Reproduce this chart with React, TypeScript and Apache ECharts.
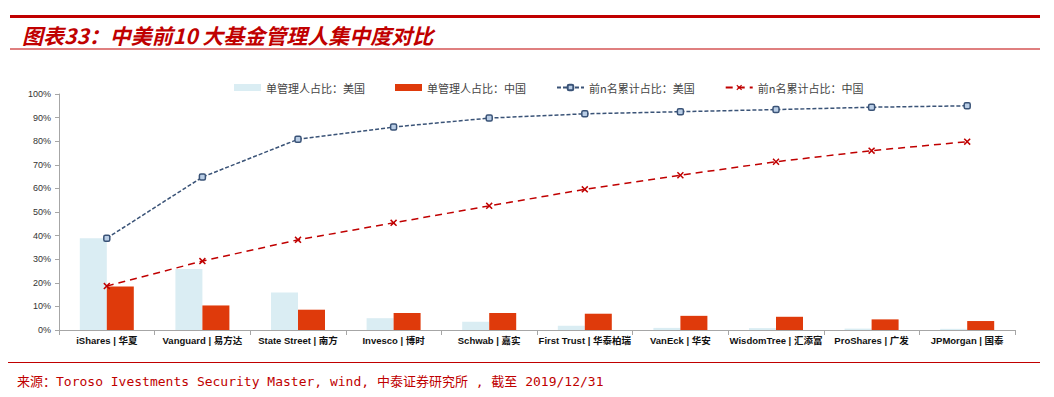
import React, { useEffect, useRef } from "react";
import * as echarts from "echarts";

const categories = [
  "iShares | 华夏",
  "Vanguard | 易方达",
  "State Street | 南方",
  "Invesco | 博时",
  "Schwab | 嘉实",
  "First Trust | 华泰柏瑞",
  "VanEck | 华安",
  "WisdomTree | 汇添富",
  "ProShares | 广发",
  "JPMorgan | 国泰",
];
const usShare = [38.9, 25.8, 15.9, 5.0, 3.5, 1.8, 0.9, 0.8, 0.6, 0.5];
const cnShare = [18.4, 10.4, 8.6, 7.2, 7.2, 6.9, 6.0, 5.6, 4.5, 3.8];
const usCum = [38.9, 64.8, 80.8, 86.0, 89.8, 91.6, 92.5, 93.4, 94.4, 95.0];
const cnCum = [18.6, 29.2, 38.2, 45.4, 52.6, 59.6, 65.6, 71.3, 76.0, 79.8];
const seriesNames = ["单管理人占比：美国", "单管理人占比：中国", "前n名累计占比：美国", "前n名累计占比：中国"];
const titleText = "图表33：中美前10 大基金管理人集中度对比";
const sourceText = "来源：Toroso Ivestments Security Master, wind, 中泰证券研究所 , 截至 2019/12/31";

const crossPath = "path://M0,1.5L1.5,0L5,3.5L8.5,0L10,1.5L6.5,5L10,8.5L8.5,10L5,6.5L1.5,10L0,8.5L3.5,5Z";

export default function App() {
  const ref = useRef<HTMLDivElement>(null);
  useEffect(() => {
    document.body.style.margin = "0";
    const chart = echarts.init(ref.current!, null, { renderer: "svg" });
    const legendFont = { fontSize: 11, color: "#444", fontFamily: "Noto Sans CJK SC" };
    chart.setOption({
      animation: false,
      backgroundColor: "#fff",
      graphic: [
        { type: "rect", shape: { x: 10, y: 15, width: 1030, height: 3 }, style: { fill: "#C00000" } },
        { type: "rect", shape: { x: 10, y: 48.5, width: 1030, height: 1 }, style: { fill: "#C00000" } },
        {
          type: "text", x: 22, y: 35,
          style: {
            text: titleText, fill: "#C00000", fontSize: 21, fontWeight: "bold", fontStyle: "italic",
            fontFamily: "Noto Sans CJK SC", verticalAlign: "middle",
          },
        },
        { type: "rect", shape: { x: 8, y: 362, width: 1032, height: 1 }, style: { fill: "#C00000" } },
        {
          type: "text", x: 17, y: 381,
          style: {
            text: sourceText, fill: "#C00000", fontSize: 13,
            fontFamily: "DejaVu Sans Mono, Noto Sans CJK SC", verticalAlign: "middle",
          },
        },
      ],
      legend: {
        top: 77,
        left: 229,
        itemGap: 30,
        itemWidth: 27,
        itemHeight: 7,
        textStyle: legendFont,
        data: [
          { name: seriesNames[0], icon: "rect" },
          { name: seriesNames[1], icon: "rect" },
          { name: seriesNames[2] },
          { name: seriesNames[3] },
        ],
      },
      grid: { left: 59, right: 39, top: 94, bottom: 67 },
      xAxis: {
        type: "category",
        data: categories,
        axisLine: { lineStyle: { color: "#A6A6A6" } },
        axisTick: { show: true, alignWithLabel: false, lineStyle: { color: "#A6A6A6" } },
        axisLabel: {
          interval: 0, color: "#111", fontWeight: "bold", fontSize: 9.5, margin: 6,
          fontFamily: "Liberation Sans, Noto Sans CJK SC",
        },
      },
      yAxis: {
        type: "value",
        min: 0, max: 100, interval: 10,
        splitLine: { show: false },
        axisLine: { show: true, lineStyle: { color: "#A6A6A6" } },
        axisTick: { show: true, length: 4, lineStyle: { color: "#A6A6A6" } },
        axisLabel: {
          formatter: "{value}%", color: "#333", fontSize: 9, margin: 8,
          fontFamily: "Liberation Sans",
        },
      },
      series: [
        {
          name: seriesNames[0], type: "bar", data: usShare, barWidth: 27, barGap: "0%",
          itemStyle: { color: "#DAEDF3" },
        },
        {
          name: seriesNames[1], type: "bar", data: cnShare, barWidth: 27,
          itemStyle: { color: "#DF3A0B" },
        },
        {
          name: seriesNames[2], type: "line", data: usCum,
          symbol: "roundRect", symbolSize: 6,
          lineStyle: { color: "#3A5377", width: 1.5, type: [4, 2] },
          itemStyle: { color: "#B9CDE5", borderColor: "#3A5377", borderWidth: 1.5 },
        },
        {
          name: seriesNames[3], type: "line", data: cnCum,
          symbol: crossPath, symbolSize: 7,
          lineStyle: { color: "#C00000", width: 1.5, type: [7, 5] },
          itemStyle: { color: "#C00000" },
        },
      ],
    });
    return () => chart.dispose();
  }, []);
  return <div ref={ref} style={{ width: 1054, height: 397 }} />;
}
